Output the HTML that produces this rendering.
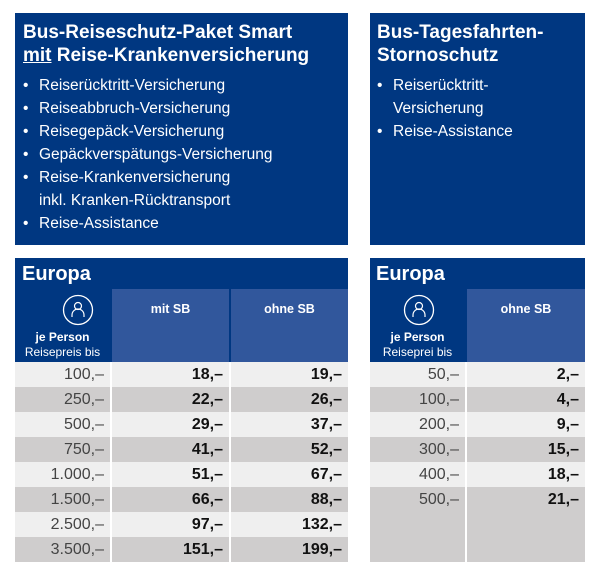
<!DOCTYPE html>
<html><head><meta charset="utf-8"><style>
*{margin:0;padding:0;box-sizing:border-box}
body{width:600px;height:577px;background:#fff;font-family:"Liberation Sans",sans-serif;position:relative;overflow:hidden}
.box{position:absolute;background:#003781;color:#fff}
.t{font-weight:bold;font-size:19px;line-height:23px;position:absolute}
ul{list-style:none;position:absolute;font-size:15.5px;line-height:23px}
ul li{padding-left:16px;position:relative}
ul li:before{content:"•";position:absolute;left:0}
.a{position:absolute}
.hc{position:absolute;background:#31579c;color:#fff;font-weight:bold;font-size:12.5px;text-align:center;padding-top:13px}
.row{position:absolute;height:25px;font-size:16px;line-height:25px}
.c{position:absolute;top:0;height:25px;text-align:right;padding-right:6px}
.b{font-weight:bold;color:#111}
.p{color:#444}
</style></head><body>
<div class="box" style="left:15px;top:13px;width:333px;height:232px">
<div class="t" style="left:8px;top:8px">Bus-Reiseschutz-Paket Smart<br><u>mit</u> Reise-Krankenversicherung</div>
<ul style="left:8px;top:61px"><li>Reiserücktritt-Versicherung</li><li>Reiseabbruch-Versicherung</li><li>Reisegepäck-Versicherung</li><li>Gepäckverspätungs-Versicherung</li><li>Reise-Krankenversicherung<br>inkl. Kranken-Rücktransport</li><li>Reise-Assistance</li></ul>
</div>
<div class="box" style="left:370px;top:13px;width:215px;height:232px">
<div class="t" style="left:7px;top:8px">Bus-Tagesfahrten-<br>Stornoschutz</div>
<ul style="left:7px;top:61px"><li>Reiserücktritt-<br>Versicherung</li><li>Reise-Assistance</li></ul>
</div>

<div class="box" style="left:15px;top:258px;width:333px;height:104px">
<div class="t" style="left:7px;top:5px;font-size:20px">Europa</div>
<svg class="a" style="left:47px;top:36px" width="32" height="32"><circle cx="16" cy="16" r="14.5" fill="none" stroke="#fff" stroke-width="1.3"/><circle cx="16" cy="12" r="3.5" fill="none" stroke="#fff" stroke-width="1.2"/><path d="M10 23v-2a6 6 0 0 1 12 0v2" fill="none" stroke="#fff" stroke-width="1.2"/></svg>
<div class="a" style="left:0;top:72px;width:95px;text-align:center;font-size:12px;line-height:15px"><b>je Person</b><br>Reisepreis bis</div>
</div>
<div class="hc" style="left:112px;top:289px;width:117px;height:73px">mit SB</div>
<div class="hc" style="left:231px;top:289px;width:117px;height:73px">ohne SB</div>

<div class="box" style="left:370px;top:258px;width:215px;height:104px">
<div class="t" style="left:6px;top:5px;font-size:20px">Europa</div>
<svg class="a" style="left:33px;top:36px" width="32" height="32"><circle cx="16" cy="16" r="14.5" fill="none" stroke="#fff" stroke-width="1.3"/><circle cx="16" cy="12" r="3.5" fill="none" stroke="#fff" stroke-width="1.2"/><path d="M10 23v-2a6 6 0 0 1 12 0v2" fill="none" stroke="#fff" stroke-width="1.2"/></svg>
<div class="a" style="left:0;top:72px;width:95px;text-align:center;font-size:12px;line-height:15px"><b>je Person</b><br>Reiseprei bis</div>
</div>
<div class="hc" style="left:467px;top:289px;width:118px;height:73px">ohne SB</div>
<div class="a" style="left:370px;top:512px;width:95px;height:50px;background:#cfcdcd"></div>
<div class="a" style="left:467px;top:512px;width:118px;height:50px;background:#cfcdcd"></div>

<div id="rows"></div>
<script>
var L=[["100,–","18,–","19,–"],["250,–","22,–","26,–"],["500,–","29,–","37,–"],["750,–","41,–","52,–"],["1.000,–","51,–","67,–"],["1.500,–","66,–","88,–"],["2.500,–","97,–","132,–"],["3.500,–","151,–","199,–"]];
var R=[["50,–","2,–"],["100,–","4,–"],["200,–","9,–"],["300,–","15,–"],["400,–","18,–"],["500,–","21,–"]];
var h="";
L.forEach(function(r,i){var bg=i%2?"#cfcdcd":"#efefef",y=362+i*25;
h+='<div class="row" style="top:'+y+'px;left:0">'+
'<div class="c p" style="left:15px;width:95px;background:'+bg+'">'+r[0]+'</div>'+
'<div class="c b" style="left:112px;width:117px;background:'+bg+'">'+r[1]+'</div>'+
'<div class="c b" style="left:231px;width:117px;background:'+bg+'">'+r[2]+'</div></div>';});
R.forEach(function(r,i){var bg=i%2?"#cfcdcd":"#efefef",y=362+i*25;
h+='<div class="row" style="top:'+y+'px;left:0">'+
'<div class="c p" style="left:370px;width:95px;background:'+bg+'">'+r[0]+'</div>'+
'<div class="c b" style="left:467px;width:118px;background:'+bg+'">'+r[1]+'</div></div>';});
document.getElementById("rows").innerHTML=h;
</script>
</body></html>
